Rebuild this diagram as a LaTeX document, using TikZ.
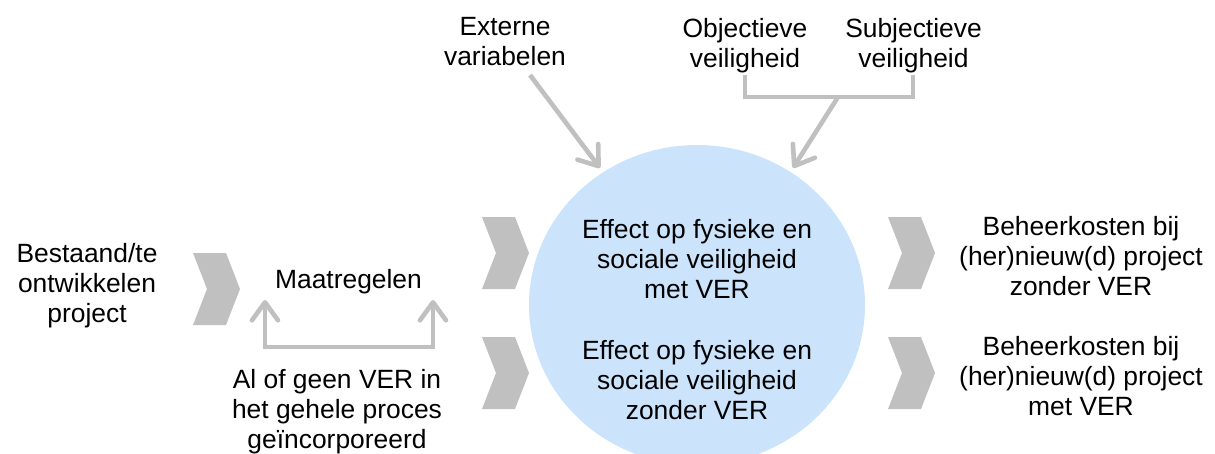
\documentclass[tikz,border=0pt]{standalone}
\usepackage{fontspec}
\setmainfont{Liberation Sans}
\usetikzlibrary{arrows.meta}
\definecolor{chevgray}{RGB}{192,192,192}
\definecolor{circblue}{RGB}{204,228,251}
\tikzset{
  lbl/.style={align=center, inner sep=0pt, anchor=north, text=black,
    font=\fontsize{26.4}{30.3}\selectfont},
  conn/.style={draw=chevgray, line width=4.6pt},
  barb/.style={Straight Barb[length=18pt, width=26pt, line cap=round, line join=round]},
  tipped/.style={conn, -{Straight Barb[length=18pt, width=26pt, line cap=round, line join=round]}},
  chev/.pic={\fill[chevgray] (0,0) -- (33,0) -- (47,36) -- (33,72) -- (0,72) -- (14,36) -- cycle;}
}
\begin{document}
\begin{tikzpicture}[x=1pt, y=-1pt]
\useasboundingbox (0,0) rectangle (1215,453);
\clip (0,0) rectangle (1215,453);
% central ellipse
\fill[circblue] (697,305) ellipse [x radius=168, y radius=160];
% chevrons
\pic at (193,253) {chev};
\pic at (482,217) {chev};
\pic at (482,337) {chev};
\pic at (888,217) {chev};
\pic at (888,337) {chev};
% texts
\node[lbl] (bestaand) at (87,243) {Bestaand/te\\ontwikkelen\\project};
\node[lbl] (maat) at (348.5,269) {Maatregelen};
\node[lbl] (algeen) at (337,369) {Al of geen VER in\\het gehele proces\\geïncorporeerd};
\node[lbl] (externe) at (505,17) {Externe\\variabelen};
\node[lbl] (obj) at (745,18) {Objectieve\\veiligheid};
\node[lbl] (subj) at (913.5,18) {Subjectieve\\veiligheid};
\node[lbl] (eff1) at (697,219) {Effect op fysieke en\\sociale veiligheid\\met VER};
\node[lbl] (eff2) at (697,340) {Effect op fysieke en\\sociale veiligheid\\zonder VER};
\node[lbl] (beh1) at (1081,216) {Beheerkosten bij\\(her)nieuw(d) project\\zonder VER};
\node[lbl] (beh2) at (1081,336) {Beheerkosten bij\\(her)nieuw(d) project\\met VER};
% connector coordinates
\coordinate (extstart) at (530,75);
\coordinate (exttip) at (600,168);
\coordinate (objfoot) at (745,75);
\coordinate (subjfoot) at (913,75);
\coordinate (brobj) at (745,97);
\coordinate (brsubj) at (913,97);
\coordinate (brmid) at (838,97);
\coordinate (veiltip) at (793,168);
\coordinate (maatl) at (265,300);
\coordinate (maatr) at (433,300);
\coordinate (barl) at (265,347);
\coordinate (barr) at (433,347);
% connectors
\draw[tipped] (extstart) -- (exttip);
\draw[conn] (objfoot) -- (brobj) -- (brsubj) -- (subjfoot);
\draw[tipped] (brmid) -- (veiltip);
\draw[conn, {Straight Barb[length=18pt, width=26pt, line cap=round, line join=round]}-{Straight Barb[length=18pt, width=26pt, line cap=round, line join=round]}] (maatl) -- (barl) -- (barr) -- (maatr);
\end{tikzpicture}
\end{document}
